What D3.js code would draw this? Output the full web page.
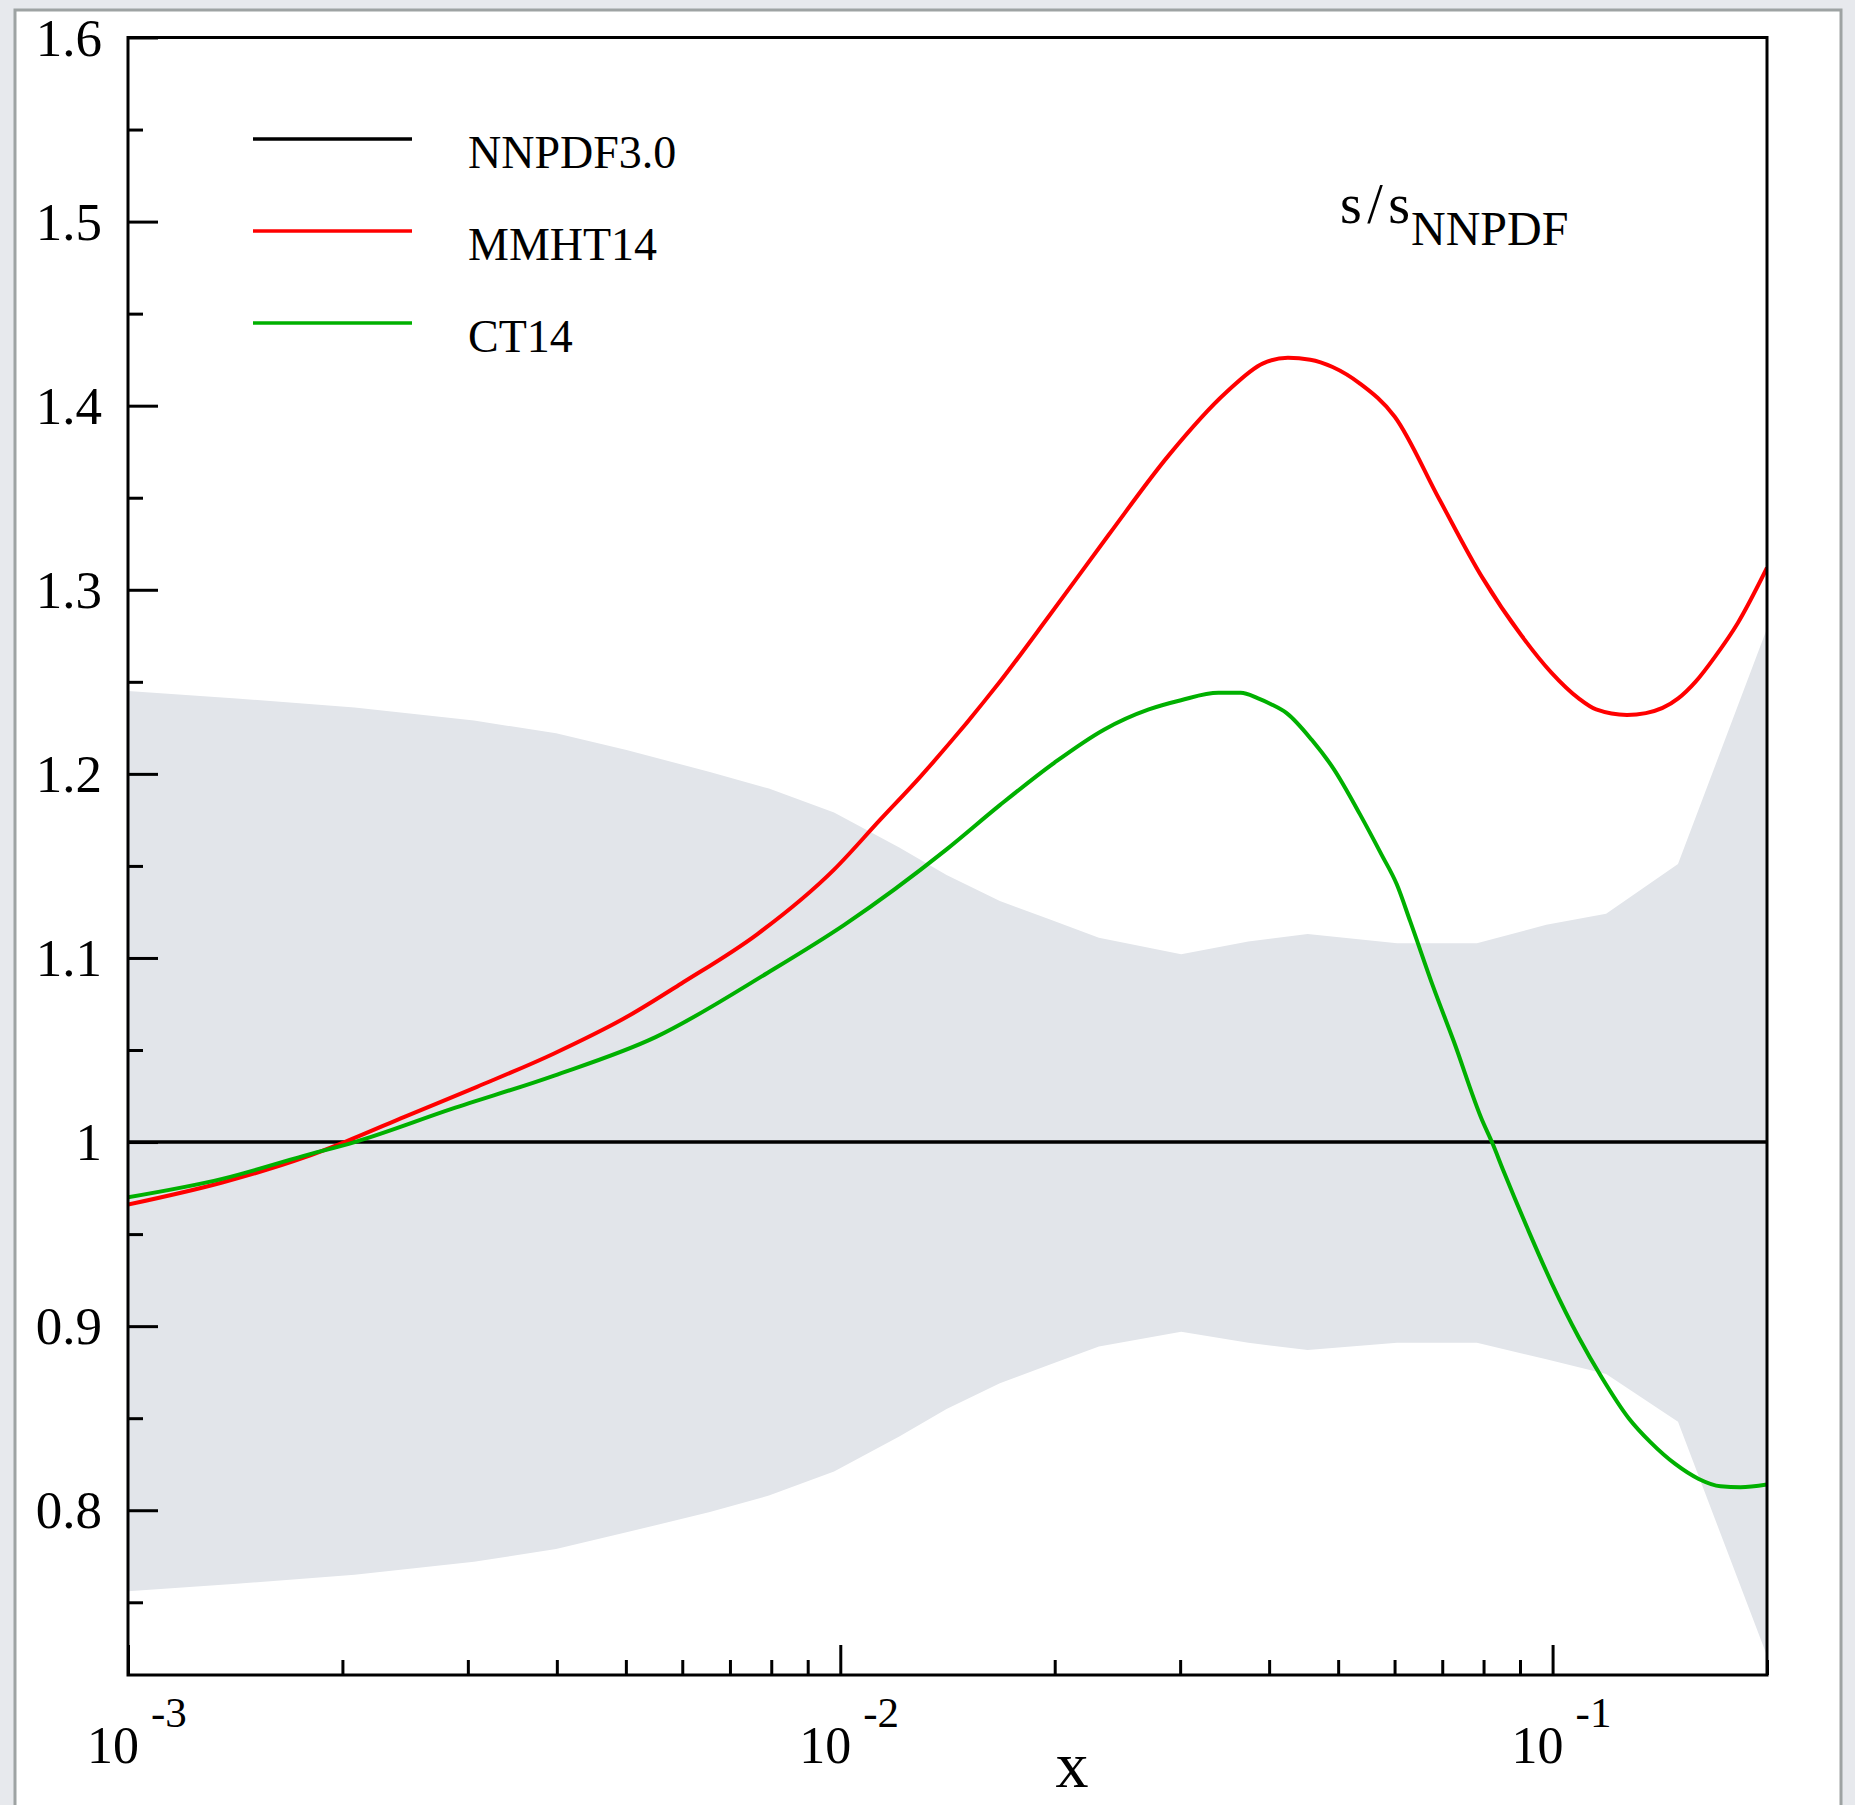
<!DOCTYPE html>
<html>
<head>
<meta charset="utf-8">
<script src="https://cdn.jsdelivr.net/npm/d3@7"></script>
<style>
  body { margin: 0; background: #e7e9ed; }
  text { font-family: "Liberation Serif", "Times New Roman", serif; fill: #000; }
</style>
</head>
<body>
<div id="chart"></div>
<script>
"use strict";

// NNPDF3.0 uncertainty band (ratio to NNPDF central value)
var bandX     = [0.001, 0.00142, 0.00208, 0.00306, 0.00399, 0.00501, 0.00656, 0.00794, 0.0098, 0.0121, 0.0141, 0.01675,
                 0.01966, 0.02307, 0.0301, 0.0374, 0.0453, 0.0605, 0.0783, 0.098, 0.1189, 0.150, 0.2];
var bandUpper = [1.245, 1.241, 1.236, 1.229, 1.222, 1.213, 1.201, 1.192, 1.179, 1.160, 1.145, 1.131,
                 1.121, 1.111, 1.102, 1.109, 1.113, 1.108, 1.108, 1.118, 1.124, 1.151, 1.279];
var bandLower = [0.756, 0.760, 0.765, 0.772, 0.779, 0.788, 0.799, 0.808, 0.821, 0.840, 0.855, 0.869,
                 0.879, 0.889, 0.897, 0.891, 0.887, 0.891, 0.891, 0.882, 0.874, 0.848, 0.721];

// NNPDF3.0 central value
var nnpdfX = [0.001, 0.2];
var nnpdfY = [1, 1];

// MMHT14 / NNPDF
var mmhtX = [0.001, 0.001356, 0.001765, 0.002014, 0.002454, 0.00309, 0.003958, 0.005069, 0.005975, 0.007651, 0.0098, 0.01137, 0.01292,
             0.01675, 0.01966, 0.02383, 0.02891, 0.03477, 0.03923, 0.04251, 0.04569, 0.04911, 0.05365, 0.06004, 0.06937, 0.07958,
             0.09048, 0.09961, 0.1088, 0.1151, 0.1272, 0.1352, 0.1501, 0.1587, 0.1693, 0.1820, 0.2];
var mmhtY = [0.966, 0.978, 0.9915, 1.000, 1.014, 1.030, 1.048, 1.069, 1.086, 1.113, 1.148, 1.175, 1.198,
             1.250, 1.286, 1.330, 1.373, 1.407, 1.423, 1.426, 1.425, 1.421, 1.412, 1.394, 1.349, 1.307,
             1.275, 1.255, 1.241, 1.235, 1.232, 1.233, 1.241, 1.250, 1.264, 1.282, 1.312];

// CT14 / NNPDF
var ctX = [0.001, 0.001356, 0.001765, 0.002081, 0.002847, 0.003958, 0.005504, 0.00791, 0.01013, 0.0141, 0.01675,
           0.01997, 0.02345, 0.02711, 0.03008, 0.03395, 0.03649, 0.0386, 0.04018, 0.04233, 0.0459, 0.04922, 0.05366,
           0.05755, 0.06043, 0.0631, 0.06803, 0.07261, 0.07961, 0.0822, 0.08539, 0.09259, 0.09982, 0.1088, 0.1173,
           0.1279, 0.1372, 0.1488, 0.1604, 0.1721, 0.1836, 0.2];
var ctY = [0.970, 0.980, 0.9925, 1.000, 1.018, 1.036, 1.057, 1.092, 1.118, 1.159, 1.183,
           1.206, 1.224, 1.235, 1.240, 1.244, 1.244, 1.241, 1.238, 1.233, 1.2185, 1.203, 1.178,
           1.156, 1.140, 1.120, 1.084, 1.055, 1.012, 1.000, 0.984, 0.9515, 0.923, 0.894, 0.872,
           0.850, 0.837, 0.825, 0.817, 0.813, 0.8125, 0.814];

var seriesNames  = ["NNPDF3.0", "MMHT14", "CT14"];
var seriesColors = ["#000000", "#ff0000", "#00b000"];

var yMajor = [0.8, 0.9, 1.0, 1.1, 1.2, 1.3, 1.4, 1.5, 1.6];
var yMinor = [0.75, 0.85, 0.95, 1.05, 1.15, 1.25, 1.35, 1.45, 1.55];
var yLabels = ["0.8", "0.9", "1", "1.1", "1.2", "1.3", "1.4", "1.5", "1.6"];
var xMajor = [0.001, 0.01, 0.1];
var xMinor = [0.002, 0.003, 0.004, 0.005, 0.006, 0.007, 0.008, 0.009,
              0.02, 0.03, 0.04, 0.05, 0.06, 0.07, 0.08, 0.09, 0.2];
var xExponents = ["-3", "-2", "-1"];

// plot box in page pixels
var W = 1855, H = 1805;
var box = {left: 128, right: 1767, top: 37.5, bottom: 1675};

var svg = d3.select("#chart")
  .append("svg")
    .attr("width", W)
    .attr("height", H);

// page panel with its grey border
svg.append("rect")
  .attr("x", 0).attr("y", 0).attr("width", W).attr("height", H)
  .attr("fill", "#e7e9ed");
svg.append("rect")
  .attr("x", 15).attr("y", 10).attr("width", 1826).attr("height", H + 20)
  .attr("fill", "#ffffff")
  .attr("stroke", "#9ea3a3")
  .attr("stroke-width", 3);

var x = d3.scaleLog()
  .domain([0.001, 0.2])
  .range([box.left, box.right]);

var y = d3.scaleLinear()
  .domain([0.7105, 1.6])
  .range([box.bottom, box.top]);

svg.append("clipPath").attr("id", "plotclip")
  .append("rect")
    .attr("x", box.left).attr("y", box.top)
    .attr("width", box.right - box.left).attr("height", box.bottom - box.top);

var plot = svg.append("g").attr("clip-path", "url(#plotclip)");

// uncertainty band
var band = bandX.map(function(d, i) { return {x: d, lo: bandLower[i], hi: bandUpper[i]}; });
var area = d3.area()
  .x(function(d) { return x(d.x); })
  .y0(function(d) { return y(d.lo); })
  .y1(function(d) { return y(d.hi); });
plot.append("path")
  .datum(band)
  .attr("fill", "#e2e5ea")
  .attr("d", area);

var line = d3.line()
  .x(function(d) { return x(d[0]); })
  .y(function(d) { return y(d[1]); })
  .curve(d3.curveMonotoneX);

var allSeries = [
  d3.zip(nnpdfX, nnpdfY),
  d3.zip(mmhtX, mmhtY),
  d3.zip(ctX, ctY)
];

allSeries.forEach(function(s, i) {
  plot.append("path")
    .datum(s)
    .attr("fill", "none")
    .attr("stroke", seriesColors[i])
    .attr("stroke-width", i === 0 ? 3.5 : 4)
    .attr("stroke-linejoin", "round")
    .attr("d", line);
});

// inward ticks
function tickAxis(axis, transform) {
  var g = svg.append("g").attr("transform", transform).call(axis);
  g.select(".domain").remove();
  g.selectAll(".tick line").attr("stroke", "#000").attr("stroke-width", 3);
  g.selectAll(".tick text").remove();
}
tickAxis(d3.axisBottom(x).tickValues(xMajor).tickSize(-30), "translate(0," + box.bottom + ")");
tickAxis(d3.axisBottom(x).tickValues(xMinor).tickSize(-15), "translate(0," + box.bottom + ")");
tickAxis(d3.axisLeft(y).tickValues(yMajor).tickSize(-30), "translate(" + box.left + ",0)");
tickAxis(d3.axisLeft(y).tickValues(yMinor).tickSize(-15), "translate(" + box.left + ",0)");

// frame
svg.append("rect")
  .attr("x", box.left).attr("y", box.top)
  .attr("width", box.right - box.left).attr("height", box.bottom - box.top)
  .attr("fill", "none")
  .attr("stroke", "#000")
  .attr("stroke-width", 3);

// y labels
svg.selectAll(".ylab")
  .data(yMajor)
  .enter().append("text")
    .attr("class", "ylab")
    .attr("x", 102)
    .attr("y", function(d) { return y(d) + 18; })
    .attr("text-anchor", "end")
    .attr("font-size", 53)
    .text(function(d, i) { return yLabels[i]; });

// x labels: 10 with exponent
xMajor.forEach(function(d, i) {
  svg.append("text")
    .attr("x", x(d) - 41)
    .attr("y", 1763)
    .attr("font-size", 52)
    .text("10");
  svg.append("text")
    .attr("x", x(d) + 23)
    .attr("y", 1727)
    .attr("font-size", 43)
    .text(xExponents[i]);
});

svg.append("text")
  .attr("x", 1072)
  .attr("y", 1787)
  .attr("text-anchor", "middle")
  .attr("font-size", 66)
  .text("x");

// legend
seriesNames.forEach(function(name, i) {
  var ly = 139 + i * 92;
  svg.append("line")
    .attr("x1", 253).attr("x2", 412)
    .attr("y1", ly).attr("y2", ly)
    .attr("stroke", seriesColors[i])
    .attr("stroke-width", 3.5);
  svg.append("text")
    .attr("x", 468)
    .attr("y", ly + 29)
    .attr("font-size", 46)
    .text(name);
});

// panel title
svg.append("text")
  .attr("x", 1340)
  .attr("y", 223)
  .attr("font-size", 56)
  .attr("textLength", 70)
  .attr("lengthAdjust", "spacing")
  .text("s/s");
svg.append("text")
  .attr("x", 1411)
  .attr("y", 245)
  .attr("font-size", 48)
  .text("NNPDF");
</script>
</body>
</html>
